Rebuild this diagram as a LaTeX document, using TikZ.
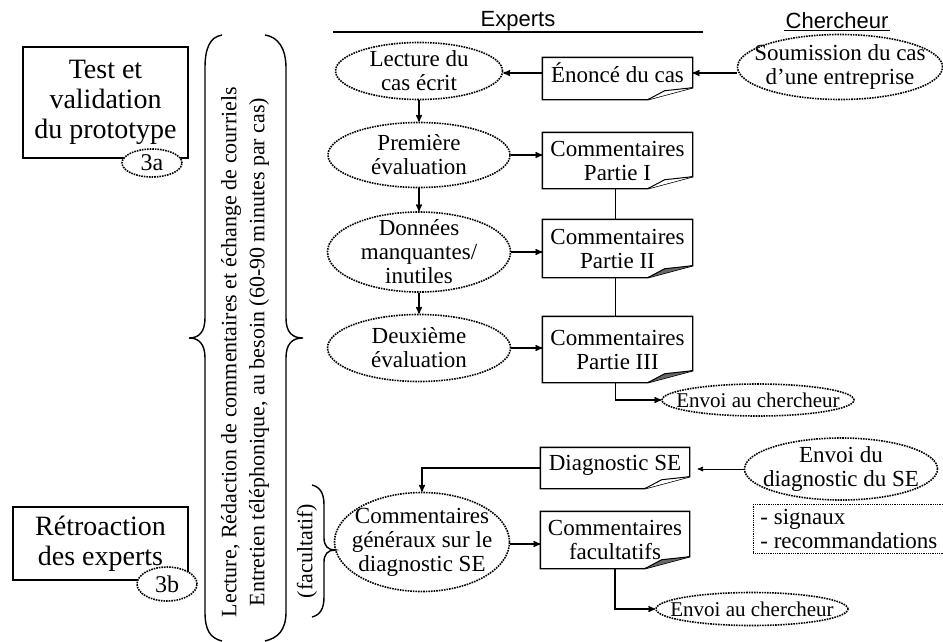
\documentclass[tikz,border=0pt]{standalone}
\usepackage{fontspec}
\setmainfont{Liberation Serif}
\setsansfont{Liberation Sans}
\usepackage{tikz}
\usetikzlibrary{arrows, shapes.geometric}

\newcommand{\bodyfont}{\fontsize{23}{24}\selectfont}
\newcommand{\bigfont}{\fontsize{28}{30}\selectfont}
\newcommand{\sidefont}{\fontsize{22}{28}\selectfont}
\newcommand{\headfont}{\sffamily\fontsize{22}{24}\selectfont}

% document outline with folded corner, drawn round a named node
\newcommand{\docframe}[2][white]{%
  \draw[line width=1.4pt] (#2.north west) -- (#2.north east) -- ([yshift=12pt]#2.south east)
    -- ([xshift=-45pt]#2.south east) -- (#2.south west) -- cycle;
  \draw[line width=1pt, fill=#1] ([xshift=-45pt]#2.south east) -- ([xshift=-28pt, yshift=9pt]#2.south east)
    -- ([yshift=12pt]#2.south east);
}

\begin{document}
\begin{tikzpicture}[x=1pt, y=-1pt,
		>=stealth',
		line width=1.4pt,
		dotell/.style={ellipse, draw, densely dotted, line width=1.6pt, inner xsep=-16pt, inner ysep=-12pt, align=center, font=\bodyfont},
		tagell/.style={ellipse, draw, densely dotted, line width=1.6pt, fill=white, inner sep=0pt, minimum width=60pt, font=\fontsize{24}{26}\selectfont},
		docnode/.style={rectangle, inner sep=0pt, minimum width=149pt, align=center, font=\bodyfont},
		stagebox/.style={rectangle, draw, line width=1.8pt, inner sep=0pt, align=center, font=\bigfont},
		arr/.style={->, line width=1.4pt}]
	\useasboundingbox (0,0) rectangle (943,641);

	% headers
	\node[font=\headfont, inner sep=1pt] (hexp) at (518,21) {Experts};
	\draw (333,32) -- (703,32);
	\node[font=\headfont, inner sep=1pt] (hcher) at (837,21) {Chercheur};
	\draw[line width=1pt] (hcher.south west) -- (hcher.south east);

	% left stages
	\node[stagebox, minimum width=165pt, minimum height=111pt] (test) at (105.5,102.5) {Test et\\validation\\du prototype};
	\node[tagell, minimum height=28pt] (t3a) at (152,163) {3a};
	\node[stagebox, minimum width=175pt, minimum height=73pt] (retro) at (100.5,543.5) {Rétroaction\\des experts};
	\node[tagell, minimum height=34pt] (t3b) at (167,584) {3b};

	% braces round the activity
	\draw (222,35) .. controls (210,37) and (205,48) .. (205,68) -- (205,318)
		.. controls (205,332) and (199,338) .. (189,338) .. controls (199,338) and (205,344) .. (205,358)
		-- (205,612) .. controls (205,630) and (210,638) .. (222,641);
	\draw (265,35) .. controls (278,37) and (286,48) .. (286,68) -- (286,318)
		.. controls (286,332) and (292,338) .. (303,338) .. controls (292,338) and (286,344) .. (286,358)
		-- (286,612) .. controls (286,630) and (278,638) .. (265,641);
	\node[rotate=90, font=\sidefont, align=center] (activ) at (245,352)
		{Lecture, Rédaction de commentaires et échange de courriels\\Entretien téléphonique, au besoin (60-90 minutes par cas)};
	\node[rotate=90, font=\sidefont] (facul) at (307,551) {(facultatif)};
	\draw (312,485) .. controls (320,487) and (324,493) .. (324,505) -- (324,538)
		.. controls (324,546) and (328,550) .. (335,550) .. controls (328,550) and (324,554) .. (324,562)
		-- (324,597) .. controls (324,609) and (320,615) .. (312,617);

	% part a
	\node[dotell, minimum width=167pt, minimum height=57pt] (lect) at (419,71) {Lecture du\\cas écrit};
	\node[docnode, minimum height=41pt, text depth=12pt] (enon) at (617.5,78.5) {Énoncé du cas};
	\docframe{enon}
	\node[dotell, minimum width=205pt, minimum height=65pt] (soum) at (840,67) {Soumission du cas\\d’une entreprise};
	\node[dotell, minimum width=182pt, minimum height=65pt] (prem) at (419,155) {Première\\évaluation};
	\node[docnode, minimum height=55pt] (com1) at (617.5,160.5) {Commentaires\\Partie I};
	\docframe{com1}
	\node[dotell, minimum width=183pt, minimum height=80pt] (donn) at (419,252) {Données\\manquantes/\\inutiles};
	\node[docnode, minimum height=57pt] (com2) at (617.5,248.5) {Commentaires\\Partie II};
	\docframe[black!60]{com2}
	\node[dotell, minimum width=183pt, minimum height=67pt] (deux) at (419,348) {Deuxième\\évaluation};
	\node[docnode, minimum height=65pt] (com3) at (617.5,349.5) {Commentaires\\Partie III};
	\docframe[black!60]{com3}
	\node[dotell, minimum width=192pt, minimum height=32pt, font=\fontsize{21}{22}\selectfont] (env1) at (758,400) {Envoi au chercheur};

	\draw[arr] (soum.west |- 0,73) -- (enon.east |- 0,73);
	\draw[arr] (enon.west |- 0,73) -- (lect.east |- 0,73);
	\draw[arr] (lect) -- (prem);
	\draw[arr] (prem.east) -- (prem.east -| com1.west);
	\draw[arr] (prem) -- (donn);
	\draw[arr] (donn.east) -- (donn.east -| com2.west);
	\draw[arr] (donn) -- (deux);
	\draw[arr] (deux.east) -- (deux.east -| com3.west);
	\draw ([xshift=-2pt]com1.south) -- ([xshift=-2pt]com2.north);
	\draw ([xshift=-2pt]com2.south) -- ([xshift=-2pt]com3.north);
	\draw[arr] ([xshift=-2pt]com3.south) |- (env1.west);

	% part b
	\node[docnode, minimum width=148pt, minimum height=40pt, text depth=10pt] (diag) at (615,468) {Diagnostic SE};
	\docframe{diag}
	\node[dotell, minimum width=193pt, minimum height=62pt] (envd) at (841,469) {Envoi du\\diagnostic du SE};
	\node[draw, densely dotted, line width=0.8pt, minimum width=190pt, minimum height=49pt, inner xsep=7pt, inner ysep=3pt, align=left, font=\bodyfont, anchor=north west] (sig) at (753,504) {- signaux\\- recommandations};
	\node[dotell, minimum width=175pt, minimum height=99pt] (cgen) at (422,542) {Commentaires\\généraux sur le\\diagnostic SE};
	\node[docnode, minimum width=148pt, minimum height=56pt] (cfac) at (615,540) {Commentaires\\facultatifs};
	\docframe[black!60]{cfac}
	\node[dotell, minimum width=192pt, minimum height=33pt, font=\fontsize{21}{22}\selectfont] (env2) at (752,609) {Envoi au chercheur};

	\draw[arr, line width=1pt] (envd.west) -- ([xshift=8pt]envd.west -| diag.east);
	\draw[arr] (diag.west) -| (cgen.north);
	\draw[arr] (cgen.east |- 0,544) -- (cfac.west |- 0,544);
	\draw[arr] (cfac.south) |- (env2.west);
\end{tikzpicture}
\end{document}
